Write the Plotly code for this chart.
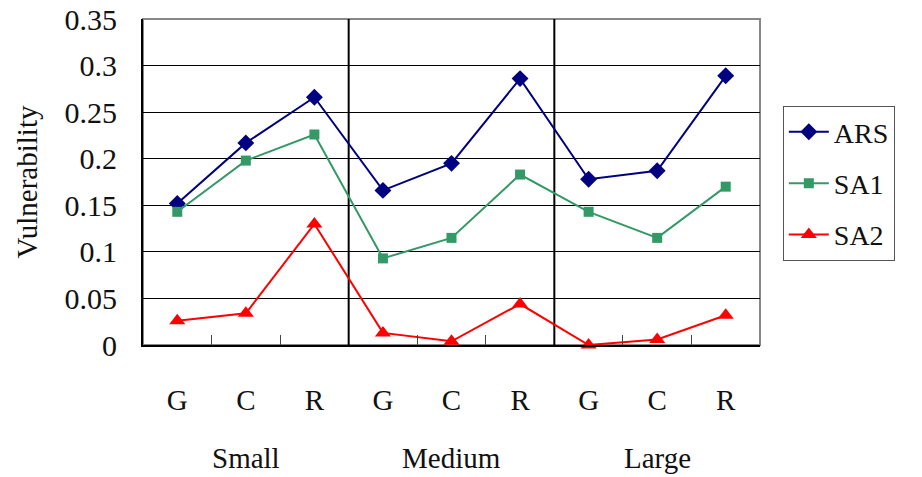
import plotly.graph_objects as go

categories = ["G", "C", "R", "G", "C", "R", "G", "C", "R"]
groups = ["Small", "Medium", "Large"]
ars = [0.152, 0.217, 0.266, 0.166, 0.195, 0.286, 0.178, 0.187, 0.289]
sa1 = [0.143, 0.198, 0.226, 0.093, 0.115, 0.183, 0.143, 0.115, 0.170]
sa2 = [0.026, 0.034, 0.130, 0.013, 0.004, 0.044, 0.000, 0.006, 0.032]
y_ticks = [0, 0.05, 0.1, 0.15, 0.2, 0.25, 0.3, 0.35]
y_ticktext = ["0", "0.05", "0.1", "0.15", "0.2", "0.25", "0.3", "0.35"]

xs = list(range(len(categories)))
FONT = "Times New Roman"
TXT = "#111111"

fig = go.Figure()
series = [
    ("ARS", ars, "#000080", "diamond", 13),
    ("SA1", sa1, "#339966", "square", 10),
    ("SA2", sa2, "#FF0000", "triangle-up", 14),
]
for name, vals, color, sym, size in series:
    fig.add_trace(go.Scatter(
        x=xs, y=vals, name=name, mode="lines+markers", legendgroup=name,
        line=dict(color=color, width=2),
        marker=dict(symbol=sym, size=size, color=color),
        cliponaxis=False,
    ))

shapes = []
for b in [2.5, 5.5]:
    shapes.append(dict(type="line", xref="x", yref="y", x0=b, x1=b, y0=0, y1=0.35,
                       line=dict(color="black", width=2), layer="below"))
shapes.append(dict(type="rect", xref="paper", yref="paper", x0=0, x1=1, y0=0, y1=1,
                   line=dict(color="#888888", width=2), layer="below"))

annotations = []
for i, g in enumerate(groups):
    annotations.append(dict(x=i * 3 + 1, y=0, xref="x", yref="y", yshift=-113,
                            text=g, showarrow=False,
                            font=dict(family=FONT, size=29, color=TXT)))

# page has an 8px body margin, so the figure is drawn 8px in from the window corner
fig.update_layout(
    width=914, height=469,
    margin=dict(l=135, r=162, t=11, b=132, autoexpand=False),
    paper_bgcolor="white", plot_bgcolor="white",
    showlegend=True,
    legend=dict(x=1.037, y=0.733, xanchor="left", yanchor="top",
                bordercolor="#555555", borderwidth=1, bgcolor="white",
                font=dict(family=FONT, size=28, color=TXT),
                tracegroupgap=12, itemwidth=40),
    shapes=shapes,
    annotations=annotations,
    xaxis=dict(
        range=[-0.5, 8.5], tickmode="array",
        tickvals=xs, ticktext=categories, automargin=False,
        showgrid=False, zeroline=False,
        showline=True, linecolor="black", linewidth=2,
        ticks="", ticklabelstandoff=28,
        tickfont=dict(family=FONT, size=29, color=TXT),
        minor=dict(tickmode="array", tickvals=[0.5, 1.5, 3.5, 4.5, 6.5, 7.5],
                   ticks="inside", ticklen=10, tickcolor="#444444", tickwidth=1,
                   showgrid=False),
    ),
    yaxis=dict(
        range=[0, 0.35], tickmode="array", tickvals=y_ticks, ticktext=y_ticktext,
        automargin=False, ticklabeloverflow="allow",
        showgrid=True, gridcolor="black", gridwidth=1,
        zeroline=False, showline=True, linecolor="black", linewidth=2,
        ticks="inside", ticklen=8, tickcolor="black",
        ticklabelstandoff=18,
        tickfont=dict(family=FONT, size=30, color=TXT),
        title=dict(text="Vulnerability", font=dict(family=FONT, size=29, color=TXT), standoff=18),
    ),
)

fig.write_html("out.html")
